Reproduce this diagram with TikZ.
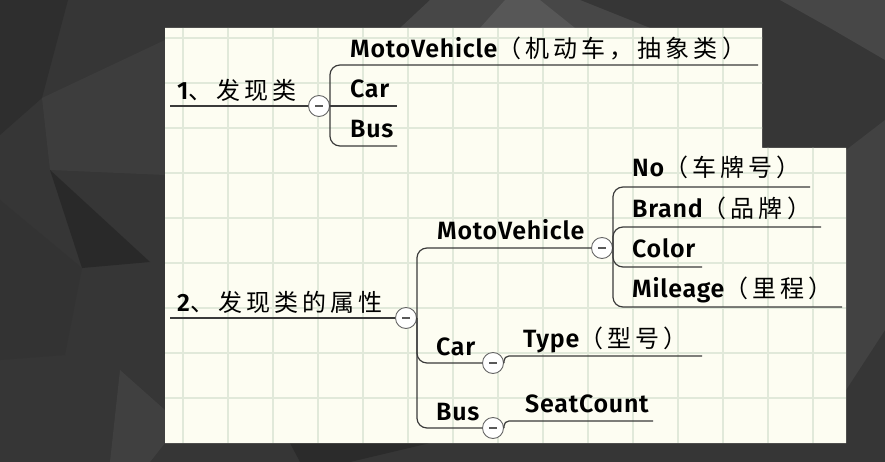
\documentclass[tikz,border=0pt]{standalone}
\usepackage{fontspec}
\setmainfont{Fira Sans}[BoldFont={Fira Sans SemiBold}, LetterSpace=3]
\newfontfamily\cjkfont{Noto Sans CJK SC}[LetterSpace=17]
\newcommand{\cn}[1]{{\cjkfont\mdseries\fontsize{24}{26}\selectfont #1}}

\definecolor{paper}{HTML}{FDFDF2}
\definecolor{gridcol}{HTML}{E1E9DA}
\definecolor{ink}{HTML}{3A3A3A}

\tikzset{
  topic/.style={font=\fontsize{25}{27}\selectfont\bfseries, anchor=base west, inner sep=0pt, text=black},
  branch/.style={draw=ink, line width=1.2pt, rounded corners=10pt},
  fold/.style={circle, draw=gray!80!black, fill=white, line width=0.9pt, minimum size=21pt, inner sep=0pt,
    path picture={\draw[line width=1.1pt, gray!70!black]
      ([xshift=-4pt]path picture bounding box.center) -- ([xshift=4pt]path picture bounding box.center);}},
  gridline/.style={draw=gridcol, line width=1.6pt}
}

\begin{document}
\begin{tikzpicture}[x=1pt,y=-1pt]
			\useasboundingbox (0,0) rectangle (885,462);
			% background
			\fill[black!79] (0,0) rectangle (885,462);
			\fill[black!72] (400,28)--(430,0)--(580,0)--(650,28)--cycle;
			\fill[black!66] (480,28)--(505,0)--(540,0)--(575,28)--cycle;
			\fill[black!82] (0,0)--(68,0)--(42,98)--(0,135)--cycle;
			\fill[black!76] (42,98)--(165,40)--(165,175)--(50,170)--cycle;
			\fill[black!84] (50,170)--(150,262)--(82,268)--cycle;
			\fill[black!80] (0,200)--(82,268)--(65,355)--(0,360)--cycle;
			\fill[black!75] (120,370)--(165,410)--(165,443)--(150,462)--(110,462)--cycle;
			\fill[black!74] (846,150)--(885,120)--(885,330)--(846,390)--cycle;
			\fill[black!83] (290,443)--(430,443)--(350,462)--(300,462)--cycle;
			\fill[black!72] (780,0)--(885,0)--(885,60)--(830,28)--cycle;

			% paper
			\fill[paper] (165,28)--(762,28)--(762,148)--(846,148)--(846,443)--(165,443)--cycle;
			\begin{scope}
				\clip (165,28)--(762,28)--(762,148)--(846,148)--(846,443)--(165,443)--cycle;
				\foreach \gx in {183,228,...,813} \draw[gridline] (\gx,28) -- (\gx,443);
				\foreach \gy in {38,83,...,398} \draw[gridline] (165,\gy) -- (846,\gy);
			\end{scope}

			% 1
			\node[topic] (t1) at (177,100) {1\cn{、发现类}};
			\node[fold] (c1) at (319,106) {};
			\node[topic] (mv1) at (350,58) {MotoVehicle\cn{（机动车，抽象类）}};
			\node[topic] (car1) at (350,98) {Car};
			\node[topic] (bus1) at (350,138) {Bus};
			\coordinate (r1s) at (170,106);
			\coordinate (mv1e) at (758,65);
			\coordinate (car1e) at (397,106);
			\coordinate (bus1e) at (397,146);
			\draw[branch] (r1s) -- (c1.west);
			\draw[branch] (c1.east) |- (mv1e);
			\draw[branch] (c1.east) -- (car1e);
			\draw[branch] (c1.east) |- (bus1e);

			% 2
			\node[topic] (t2) at (177,311) {2\cn{、发现类的属性}};
			\node[fold] (c2) at (406,318) {};
			\node[topic] (mv2) at (437,240) {MotoVehicle};
			\node[fold] (c3) at (602,248) {};
			\node[topic] (car2) at (436,355) {Car};
			\node[fold] (c4) at (493,363) {};
			\node[topic] (bus2) at (436,420) {Bus};
			\node[fold] (c5) at (493,428) {};
			\node[topic] (no) at (632,177) {No\cn{（车牌号）}};
			\node[topic] (brand) at (632,218) {Brand\cn{（品牌）}};
			\node[topic] (color) at (632,258) {Color};
			\node[topic] (mileage) at (632,297) {Mileage\cn{（里程）}};
			\node[topic] (type) at (523,347) {Type\cn{（型号）}};
			\node[topic] (seat) at (525,412) {SeatCount};
			\coordinate (r2s) at (170,318);
			\coordinate (noe) at (810,187);
			\coordinate (brande) at (821,227);
			\coordinate (colore) at (702,267);
			\coordinate (mileagee) at (842,307);
			\coordinate (typee) at (702,356);
			\coordinate (seate) at (653,421);
			\draw[branch] (r2s) -- (c2.west);
			\draw[branch] (c2.east) |- (c3.west);
			\draw[branch] (c2.east) |- (c4.west);
			\draw[branch] (c2.east) |- (c5.west);
			\draw[branch] (c3.east) |- (noe);
			\draw[branch] (c3.east) |- (brande);
			\draw[branch] (c3.east) |- (colore);
			\draw[branch] (c3.east) |- (mileagee);
			\draw[branch,rounded corners=5pt] (c4.east) |- (typee);
			\draw[branch,rounded corners=5pt] (c5.east) |- (seate);
		\end{tikzpicture}
\end{document}
